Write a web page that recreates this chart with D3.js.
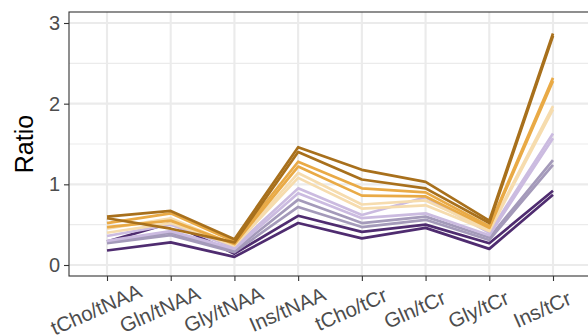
<!DOCTYPE html>
<html>
<head>
<meta charset="utf-8">
<script src="https://cdn.jsdelivr.net/npm/d3@7"></script>
<style>
  body { margin: 0; background: #fff; }
  text { font-family: "Liberation Sans", Arial, sans-serif; }
</style>
</head>
<body>
<div class="canvas"></div>
<script>
// categories on the x axis
const ratios = ['tCho/tNAA', 'Gln/tNAA', 'Gly/tNAA', 'Ins/tNAA', 'tCho/tCr', 'Gln/tCr', 'Gly/tCr', 'Ins/tCr'];
const yTicks = [0, 1, 2, 3];

// one line per subject
const dPurple1 = [0.18, 0.28, 0.10, 0.52, 0.33, 0.46, 0.20, 0.87];
const dPurple2 = [0.29, 0.52, 0.14, 0.61, 0.41, 0.50, 0.27, 0.92];
const gray1    = [0.27, 0.37, 0.16, 0.72, 0.47, 0.56, 0.31, 1.24];
const gray2    = [0.28, 0.40, 0.18, 0.81, 0.52, 0.60, 0.34, 1.30];
const lPurple1 = [0.30, 0.42, 0.20, 0.89, 0.58, 0.64, 0.37, 1.57];
const lPurple2 = [0.36, 0.50, 0.22, 0.95, 0.62, 0.84, 0.40, 1.63];
const tan1     = [0.40, 0.52, 0.24, 1.08, 0.70, 0.74, 0.42, 1.93];
const tan2     = [0.45, 0.58, 0.25, 1.14, 0.75, 0.80, 0.44, 1.97];
const orange1  = [0.47, 0.55, 0.26, 1.22, 0.86, 0.85, 0.46, 2.28];
const orange2  = [0.52, 0.64, 0.29, 1.28, 0.95, 0.90, 0.48, 2.32];
const brown1   = [0.58, 0.45, 0.28, 1.40, 1.06, 0.95, 0.52, 2.84];
const brown2   = [0.60, 0.67, 0.32, 1.46, 1.18, 1.03, 0.55, 2.87];

const series = [dPurple1, dPurple2, gray1, gray2, lPurple1, lPurple2, tan1, tan2, orange1, orange2, brown1, brown2];
const colours = ['#4f2c70', '#4f2c70', '#a49aba', '#a49aba', '#cbbbe0', '#cbbbe0',
                 '#f6dcae', '#f6dcae', '#e9aa46', '#e9aa46', '#a8701c', '#a8701c'];

const width = 588, height = 336;
const panel = { left: 69, top: 12, right: 592, bottom: 276 };

const svg = d3.select('.canvas')
    .append('svg')
    .attr('width', width)
    .attr('height', height);

// scales
const x = d3.scalePoint()
    .domain(ratios)
    .range([107, 553]);

const y = d3.scaleLinear()
    .domain([0, 3])
    .range([265, 23]);

// panel background
svg.append('rect')
    .attr('x', panel.left)
    .attr('y', panel.top)
    .attr('width', panel.right - panel.left)
    .attr('height', panel.bottom - panel.top)
    .attr('fill', '#fff');

// minor grid
svg.append('g')
    .selectAll('line')
    .data([0.5, 1.5, 2.5])
    .enter().append('line')
    .attr('x1', panel.left).attr('x2', panel.right)
    .attr('y1', d => y(d)).attr('y2', d => y(d))
    .attr('stroke', '#ebebeb')
    .attr('stroke-width', 1.1);

// major grid
svg.append('g')
    .selectAll('line')
    .data(yTicks)
    .enter().append('line')
    .attr('x1', panel.left).attr('x2', panel.right)
    .attr('y1', d => y(d)).attr('y2', d => y(d))
    .attr('stroke', '#ebebeb')
    .attr('stroke-width', 2.1);

svg.append('g')
    .selectAll('line')
    .data(ratios)
    .enter().append('line')
    .attr('x1', d => x(d)).attr('x2', d => x(d))
    .attr('y1', panel.top).attr('y2', panel.bottom)
    .attr('stroke', '#ebebeb')
    .attr('stroke-width', 2.1);

// lines
const line = d3.line()
    .x((d, i) => x(ratios[i]))
    .y(d => y(d));

svg.append('g')
    .selectAll('path')
    .data(series)
    .enter().append('path')
    .attr('d', line)
    .attr('fill', 'none')
    .attr('stroke', (d, i) => colours[i])
    .attr('stroke-width', 2.7)
    .attr('stroke-linejoin', 'round');

// panel border
svg.append('rect')
    .attr('x', panel.left)
    .attr('y', panel.top)
    .attr('width', panel.right - panel.left)
    .attr('height', panel.bottom - panel.top)
    .attr('fill', 'none')
    .attr('stroke', '#333')
    .attr('stroke-width', 1.1);

// y axis
const yAxis = svg.append('g')
    .attr('transform', `translate(${panel.left}, 0)`)
    .call(d3.axisLeft(y).tickValues(yTicks).tickFormat(d3.format('d')).tickSize(5).tickPadding(4));
yAxis.select('.domain').remove();
yAxis.selectAll('line').attr('stroke', '#333').attr('stroke-width', 1.1);
yAxis.selectAll('text')
    .attr('fill', '#4d4d4d')
    .style('font-size', '20px')
    .style('font-family', '"Liberation Sans", Arial, sans-serif');

// x axis
const xAxis = svg.append('g')
    .attr('transform', `translate(0, ${panel.bottom})`)
    .call(d3.axisBottom(x).tickSize(5).tickFormat(''));
xAxis.select('.domain').remove();
xAxis.selectAll('line').attr('stroke', '#333').attr('stroke-width', 1.1);

// rotated x labels
svg.append('g')
    .selectAll('text')
    .data(ratios)
    .enter().append('text')
    .attr('transform', d => `translate(${x(d) - 11}, 309) rotate(-24)`)
    .attr('text-anchor', 'middle')
    .attr('dominant-baseline', 'central')
    .attr('fill', '#4d4d4d')
    .style('font-size', '20.5px')
    .text(d => d);

// y title
svg.append('text')
    .attr('transform', `translate(24, ${(panel.top + panel.bottom) / 2}) rotate(-90)`)
    .attr('text-anchor', 'middle')
    .attr('dominant-baseline', 'central')
    .attr('fill', '#000')
    .style('font-size', '25px')
    .text('Ratio');
</script>
</body>
</html>
